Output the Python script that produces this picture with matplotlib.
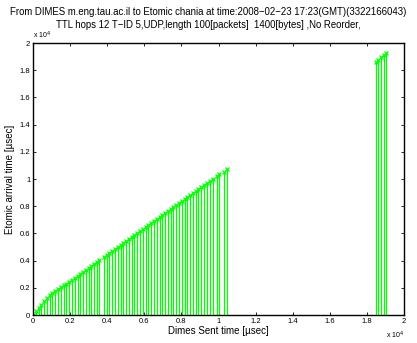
import matplotlib
matplotlib.use("Agg")
import matplotlib.pyplot as plt

plt.rcParams['font.family'] = ['Liberation Sans', 'DejaVu Sans']

sent_1 = [0, 150, 300, 450, 600, 750, 900, 1050, 1200, 1350, 1500, 1650, 1800, 1950,
          2100, 2250, 2400, 2550, 2700, 2850, 3000, 3150, 3300, 3450, 3580]
arrival_1 = [20, 270, 520, 760, 1000, 1220, 1450, 1620, 1770, 1910, 2040, 2170, 2300, 2440,
             2580, 2720, 2870, 3010, 3160, 3300, 3450, 3600, 3750, 3890, 4020]
sent_2 = [3820, 3970, 4120, 4270, 4420, 4570, 4720, 4870, 5020, 5170, 5320, 5470, 5620,
          5770, 5920, 6070, 6220, 6370, 6520, 6670, 6820, 6970, 7120, 7270, 7420, 7570,
          7720, 7870, 8020, 8170, 8320, 8470, 8620, 8770, 8920, 9070, 9220, 9370, 9520, 9680]
arrival_2 = [4275, 4421, 4567, 4713, 4860, 5006, 5152, 5298, 5445, 5591, 5737, 5883, 6030,
             6176, 6322, 6468, 6615, 6761, 6907, 7053, 7200, 7346, 7492, 7638, 7785, 7931,
             8077, 8223, 8370, 8516, 8662, 8808, 8955, 9101, 9247, 9393, 9540, 9686, 9832, 9988]
sent_3 = [9900, 10050, 10270, 10470]
arrival_3 = [10190, 10340, 10550, 10750]
sent_4 = [18480, 18620, 18760, 18900, 19020]
arrival_4 = [18600, 18780, 18950, 19120, 19290]

sent = sent_1 + sent_2 + sent_3 + sent_4
arrival = arrival_1 + arrival_2 + arrival_3 + arrival_4

tick_vals = [0, 2000, 4000, 6000, 8000, 10000, 12000, 14000, 16000, 18000, 20000]
tick_labels = ['0', '0.2', '0.4', '0.6', '0.8', '1', '1.2', '1.4', '1.6', '1.8', '2']

fig = plt.figure(figsize=(4.17, 3.43), dpi=100)
ax = fig.add_axes([33/417, 28/343, 371/417, 272/343])

green = '#00ff00'
ax.vlines(sent, 0, arrival, colors=green, linewidth=0.9)
ax.plot(sent, arrival, linestyle='none', marker='x', color=green, markersize=3,
        markeredgewidth=0.9)

ax.set_xlim(0, 20000)
ax.set_ylim(0, 20000)
ax.set_xticks(tick_vals)
ax.set_xticklabels(tick_labels)
ax.set_yticks(tick_vals)
ax.set_yticklabels(tick_labels)
ax.tick_params(direction='in', length=2.5, width=0.6, labelsize=5.5, top=True, right=True,
               pad=2)
for s in ax.spines.values():
    s.set_linewidth(1.0)

ax.set_xlabel('Dimes Sent time [\u00b5sec]', fontsize=7, labelpad=1)
ax.set_ylabel('Etomic arrival time [\u00b5sec]', fontsize=7, labelpad=3)

ax.text(0.0, 1.008, r'x 10$^{4}$', transform=ax.transAxes, fontsize=5, ha='left', va='bottom')
fig.text(404/417, 1 - 335/343, r'x 10$^{4}$', fontsize=5, ha='right', va='center')

fig.text(0.5, 1 - 12/343, 'From DIMES m.eng.tau.ac.il to Etomic chania at time:2008\u221202\u221223 17:23(GMT)(3322166043)',
         fontsize=6.95, ha='center', va='center')
fig.text(0.5, 1 - 25/343, 'TTL hops 12 T\u2212ID 5,UDP,length 100[packets]  1400[bytes] ,No Reorder,',
         fontsize=6.95, ha='center', va='center')

fig.savefig('out.png', dpi=100)
